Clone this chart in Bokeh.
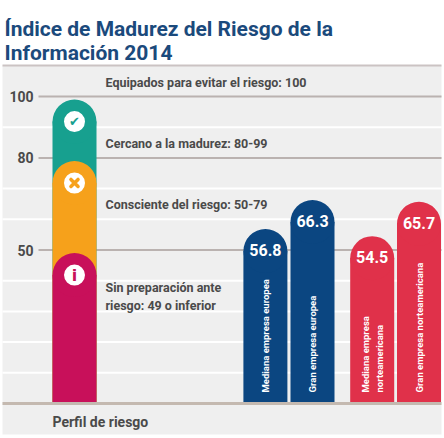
import math
from bokeh.plotting import figure
from bokeh.models import Range1d, FixedTicker, ColumnDataSource
from bokeh.core.properties import value
from bokeh.embed import file_html
from bokeh.resources import INLINE

# ---------------- data ----------------
title_lines = ["Índice de Madurez del Riesgo de la", "Información 2014"]

axis_ticks = [50, 80, 100]
axis_tick_labels = ["50", "80", "100"]
band_ticks = [10, 20, 30, 40, 60, 70, 90]

# risk profile stacked bar (upper bound of each level)
profile_tops = [99, 79, 49]
profile_level_labels = [
    "Equipados para evitar el riesgo: 100",
    "Cercano a la madurez: 80-99",
    "Consciente del riesgo: 50-79",
    "Sin preparación ante\nriesgo: 49 o inferior",
]
profile_axis_label = "Perfil de riesgo"

companies = [
    "Mediana empresa europea",
    "Gran empresa europea",
    "Mediana empresa\nnorteamericana",
    "Gran empresa norteamericana",
]
scores = [56.8, 66.3, 54.5, 65.7]

# ---------------- layout / style ----------------
FIG_W, FIG_H = 444, 438
X0, X1 = 0, 444
SY = 3.07                      # px per index point
BASE_PX = 403                  # pixel row of index 0


def Y(px):
    return (BASE_PX - px) / SY


y_top = Y(0)
y_bot = Y(FIG_H)

TEAL, ORANGE, CRIMSON = "#17a08f", "#f6a11b", "#c8105a"
BLUE, RED = "#0b4681", "#e0314a"
PANEL = "#efefef"
DARK = "#4a4a4a"
TITLE_C = "#1b4a7c"
FONT = "Roboto"

PL, PR = 2, 441                # panel left / right
BAR_W = 44
R_Y = (BAR_W / 2) / SY         # cap radius in index units

p = figure(width=FIG_W, height=FIG_H, x_range=Range1d(X0, X1),
           y_range=Range1d(y_bot, y_top), output_backend="svg",
           toolbar_location=None, min_border=0, x_axis_type=None)
p.outline_line_color = None
p.background_fill_color = "white"
p.border_fill_color = "white"
p.ygrid.visible = False

# y axis drawn inside the panel
yax = p.yaxis[0]
yax.fixed_location = 38
yax.ticker = FixedTicker(ticks=axis_ticks)
yax.major_label_overrides = {t: l for t, l in zip(axis_ticks, axis_tick_labels)}
yax.axis_line_color = None
yax.major_tick_line_color = None
yax.minor_tick_line_color = None
yax.major_tick_in = 0
yax.major_tick_out = 0
yax.major_label_standoff = 5
yax.major_label_text_font = FONT
yax.major_label_text_font_style = "bold"
yax.major_label_text_font_size = "14px"
yax.major_label_text_color = DARK

# panel
p.quad(left=PL, right=PR, bottom=Y(434), top=Y(65), fill_color=PANEL, line_color=None)
p.segment(x0=PL, x1=PR, y0=Y(65), y1=Y(65), line_color="#cbc3c3", line_width=2)
p.segment(x0=[PL] * len(band_ticks), x1=[PR] * len(band_ticks), y0=band_ticks, y1=band_ticks,
          line_color="white", line_width=2)
p.segment(x0=[38] * len(axis_ticks), x1=[PR] * len(axis_ticks), y0=axis_ticks, y1=axis_ticks,
          line_color="#bab2b0", line_width=2)

# risk profile bar
PX = 74
prof_colors = [TEAL, ORANGE, CRIMSON]
prof_cy = [t - R_Y for t in profile_tops]
for cy, col in zip(prof_cy, prof_colors):
    p.vbar(x=PX, width=BAR_W, bottom=0, top=cy, fill_color=col, line_color=None)
    p.circle(x=PX, y=cy, radius=BAR_W / 2, fill_color=col, line_color=None)

# icons
p.scatter(x=[PX] * 3, y=prof_cy, size=21, marker="circle", fill_color="white", line_color=None)
p.text(x=[PX], y=[prof_cy[0]], text=["✔"], text_font=value("DejaVu Sans"),
       text_font_size="13px", text_color=TEAL, text_align="center", text_baseline="middle")
p.scatter(x=[PX], y=[prof_cy[1]], size=10, marker="x", line_color=ORANGE, line_width=3.5,
          line_cap="round")
p.text(x=[PX], y=[prof_cy[2]], text=["i"], text_font=value("DejaVu Sans"), text_font_style="bold",
       text_font_size="16px", text_color=CRIMSON, text_align="center", text_baseline="middle")

# company bars
cx = [264.9, 312.0, 371.7, 418.5]
colors = [BLUE, BLUE, RED, RED]
src = ColumnDataSource(dict(x=cx, score=scores, cy=[s - R_Y for s in scores],
                            ty=[s - 21 / SY for s in scores],
                            lab=["%.1f" % s for s in scores], name=companies, color=colors))
p.vbar(x="x", width=BAR_W, bottom=0, top="cy", fill_color="color", line_color=None, source=src)
p.circle(x="x", y="cy", radius=BAR_W / 2, fill_color="color", line_color=None, source=src)
p.text(x="x", y="ty", text="lab", source=src, text_font=value(FONT), text_font_style="bold",
       text_font_size="16px", text_color="white", text_align="center", text_baseline="middle")
p.text(x="x", y=Y(392), text="name", source=src, angle=math.pi / 2, text_font=value(FONT),
       text_font_style="bold", text_font_size="9.5px", text_color="white",
       text_align="left", text_baseline="middle", text_line_height=1.25)

# baseline
p.segment(x0=PL, x1=PR, y0=0, y1=0, line_color="#c4b9b0", line_width=3)

# level labels
lab_y = [Y(82), Y(143), Y(204), Y(295.5)]
p.text(x=[105] * 4, y=lab_y, text=profile_level_labels, text_font=value(FONT),
       text_font_style="bold", text_font_size="12.5px", text_color=DARK,
       text_align="left", text_baseline="middle", text_line_height=1.2)
p.text(x=[52], y=[Y(421)], text=[profile_axis_label], text_font=value(FONT),
       text_font_style="bold", text_font_size="14px", text_color=DARK,
       text_align="left", text_baseline="middle")

# title
p.text(x=[4, 4], y=[Y(28), Y(52)], text=title_lines, text_font=value(FONT),
       text_font_style="bold", text_font_size="21px", text_color=TITLE_C,
       text_align="left", text_baseline="alphabetic")

open("out.html", "w").write(file_html(p, INLINE))
